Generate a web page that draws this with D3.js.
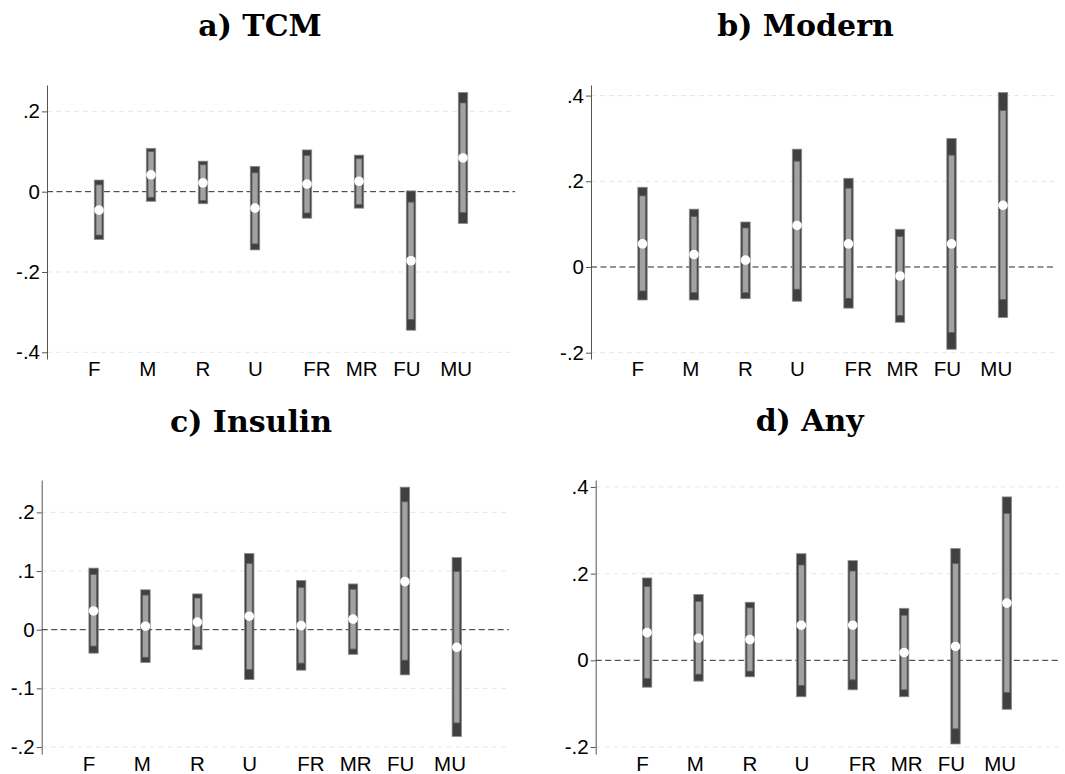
<!DOCTYPE html>
<html>
<head>
<meta charset="utf-8">
<script src="https://cdnjs.cloudflare.com/ajax/libs/d3/7.8.5/d3.min.js"></script>
<style>
  body { margin: 0; background: #fff; }
  svg { display: block; }
</style>
</head>
<body>
<script>
const w = 1065;
const h = 774;
const labelFont = "'Liberation Sans', Arial, sans-serif";
const titleFont = "'DejaVu Serif', serif";

// groups on the x axis, and where their labels sit (bars sit at 1..8)
const categories = ["F", "M", "R", "U", "FR", "MR", "FU", "MU"];
const labelPos = [0.9, 1.93, 2.99, 4.0, 5.18, 6.04, 6.91, 7.86];

// a) TCM
const tcmEst  = [-0.046, 0.042, 0.022, -0.041, 0.019, 0.026, -0.172, 0.084];
const tcmCi90 = [[-0.108, 0.017], [-0.014, 0.100], [-0.022, 0.067], [-0.130, 0.047],
                 [-0.053, 0.090], [-0.032, 0.082], [-0.318, -0.026], [-0.052, 0.221]];
const tcmCi95 = [[-0.119, 0.029], [-0.024, 0.108], [-0.030, 0.076], [-0.145, 0.063],
                 [-0.066, 0.104], [-0.041, 0.091], [-0.345, 0.002], [-0.079, 0.247]];
const tcmTicks = [-0.4, -0.2, 0, 0.2];
const tcmTickLabels = ["-.4", "-.2", "0", ".2"];

// b) Modern
const modEst  = [0.054, 0.029, 0.016, 0.097, 0.054, -0.021, 0.054, 0.144];
const modCi90 = [[-0.056, 0.166], [-0.060, 0.118], [-0.060, 0.091], [-0.052, 0.247],
                 [-0.073, 0.184], [-0.113, 0.071], [-0.153, 0.261], [-0.076, 0.365]];
const modCi95 = [[-0.077, 0.186], [-0.077, 0.135], [-0.074, 0.105], [-0.080, 0.275],
                 [-0.096, 0.207], [-0.129, 0.088], [-0.192, 0.300], [-0.118, 0.407]];
const modTicks = [-0.2, 0, 0.2, 0.4];
const modTickLabels = ["-.2", "0", ".2", ".4"];

// c) Insulin
const insEst  = [0.032, 0.006, 0.013, 0.023, 0.007, 0.018, 0.082, -0.030];
const insCi90 = [[-0.028, 0.094], [-0.047, 0.059], [-0.027, 0.054], [-0.068, 0.113],
                 [-0.057, 0.072], [-0.033, 0.069], [-0.052, 0.218], [-0.159, 0.099]];
const insCi95 = [[-0.040, 0.105], [-0.056, 0.068], [-0.034, 0.061], [-0.085, 0.130],
                 [-0.069, 0.084], [-0.042, 0.078], [-0.077, 0.243], [-0.182, 0.123]];
const insTicks = [-0.2, -0.1, 0, 0.1, 0.2];
const insTickLabels = ["-.2", "-.1", "0", ".1", ".2"];

// d) Any
const anyEst  = [0.064, 0.051, 0.048, 0.081, 0.081, 0.018, 0.032, 0.132];
const anyCi90 = [[-0.042, 0.170], [-0.032, 0.136], [-0.025, 0.121], [-0.058, 0.220],
                 [-0.045, 0.206], [-0.068, 0.104], [-0.158, 0.223], [-0.074, 0.339]];
const anyCi95 = [[-0.062, 0.190], [-0.048, 0.152], [-0.038, 0.134], [-0.084, 0.246],
                 [-0.068, 0.230], [-0.084, 0.120], [-0.193, 0.258], [-0.113, 0.377]];
const anyTicks = [-0.2, 0, 0.2, 0.4];
const anyTickLabels = ["-.2", "0", ".2", ".4"];

const panels = [
  { title: "a) TCM", est: tcmEst, ci90: tcmCi90, ci95: tcmCi95, ticks: tcmTicks, tickLabels: tcmTickLabels,
    left: 47, width: 468, top: 85, bottom: 359, ydom: [-0.4167, 0.2657], tx: 260, ty: 36 },
  { title: "b) Modern", est: modEst, ci90: modCi90, ci95: modCi95, ticks: modTicks, tickLabels: modTickLabels,
    left: 591, width: 463.5, top: 85, bottom: 359, ydom: [-0.2147, 0.4247], tx: 805.5, ty: 36 },
  { title: "c) Insulin", est: insEst, ci90: insCi90, ci95: insCi95, ticks: insTicks, tickLabels: insTickLabels,
    left: 41.7, width: 467, top: 480, bottom: 754, ydom: [-0.2119, 0.2552], tx: 251, ty: 431.5 },
  { title: "d) Any", est: anyEst, ci90: anyCi90, ci95: anyCi95, ticks: anyTicks, tickLabels: anyTickLabels,
    left: 595.7, width: 462.6, top: 480, bottom: 754, ydom: [-0.2161, 0.4160], tx: 809.7, ty: 431 }
];

const svg = d3.select("body")
              .append("svg")
              .attr("width", w)
              .attr("height", h);

panels.forEach(function(p) {
  const xScale = d3.scaleLinear()
                   .domain([0, 9])
                   .range([p.left, p.left + p.width]);
  const yScale = d3.scaleLinear()
                   .domain(p.ydom)
                   .range([p.bottom, p.top]);

  const g = svg.append("g");

  svg.append("text")
     .attr("x", p.tx)
     .attr("y", p.ty)
     .attr("text-anchor", "middle")
     .attr("font-family", titleFont)
     .attr("font-weight", "bold")
     .attr("font-size", 30)
     .text(p.title);

  // grid lines, zero line is darker
  g.selectAll(".grid")
   .data(p.ticks)
   .enter()
   .append("line")
   .attr("x1", xScale(0))
   .attr("x2", xScale(9))
   .attr("y1", (d) => yScale(d))
   .attr("y2", (d) => yScale(d))
   .attr("stroke", (d) => d === 0 ? "#2a2a2a" : "#e6e6e6")
   .attr("stroke-width", 1)
   .attr("stroke-dasharray", (d) => d === 0 ? "6,3.5" : "5,4");

  const yAxis = d3.axisLeft(yScale)
                  .tickValues(p.ticks)
                  .tickFormat((d, i) => p.tickLabels[i])
                  .tickSize(5)
                  .tickSizeOuter(0)
                  .tickPadding(2);

  const ya = g.append("g")
              .attr("transform", "translate(" + p.left + ",0)")
              .call(yAxis)
              .attr("font-family", labelFont)
              .attr("font-size", 20.5);
  ya.selectAll("path, line").attr("stroke", "#555");
  ya.selectAll("text").attr("fill", "#000");

  const xAxis = d3.axisBottom(xScale)
                  .tickValues(labelPos)
                  .tickFormat((d, i) => categories[i])
                  .tickSize(0)
                  .tickPadding(0);

  const xa = g.append("g")
              .attr("transform", "translate(0," + p.bottom + ")")
              .call(xAxis)
              .attr("font-family", labelFont)
              .attr("font-size", 20.5);
  xa.select(".domain").remove();
  xa.selectAll("text").attr("dy", null).attr("y", 17).attr("fill", "#000");

  const rows = categories.map((c, i) => ({ x: i + 1, est: p.est[i], ci90: p.ci90[i], ci95: p.ci95[i] }));

  // 95% interval
  g.selectAll(".ci95")
   .data(rows)
   .enter()
   .append("rect")
   .attr("x", (d) => xScale(d.x) - 4.7)
   .attr("width", 9.4)
   .attr("y", (d) => yScale(d.ci95[1]))
   .attr("height", (d) => yScale(d.ci95[0]) - yScale(d.ci95[1]))
   .attr("fill", "#404040")
   .attr("stroke", "#8c8c8c")
   .attr("stroke-width", 0.8);

  // 90% interval
  g.selectAll(".ci90")
   .data(rows)
   .enter()
   .append("rect")
   .attr("x", (d) => xScale(d.x) - 3)
   .attr("width", 6)
   .attr("y", (d) => yScale(d.ci90[1]))
   .attr("height", (d) => yScale(d.ci90[0]) - yScale(d.ci90[1]))
   .attr("fill", "#a2a2a2")
   .attr("stroke", "#5e5e5e")
   .attr("stroke-width", 0.8);

  g.selectAll(".est")
   .data(rows)
   .enter()
   .append("circle")
   .attr("cx", (d) => xScale(d.x))
   .attr("cy", (d) => yScale(d.est))
   .attr("r", 4.8)
   .attr("fill", "#fff");
});
</script>
</body>
</html>
